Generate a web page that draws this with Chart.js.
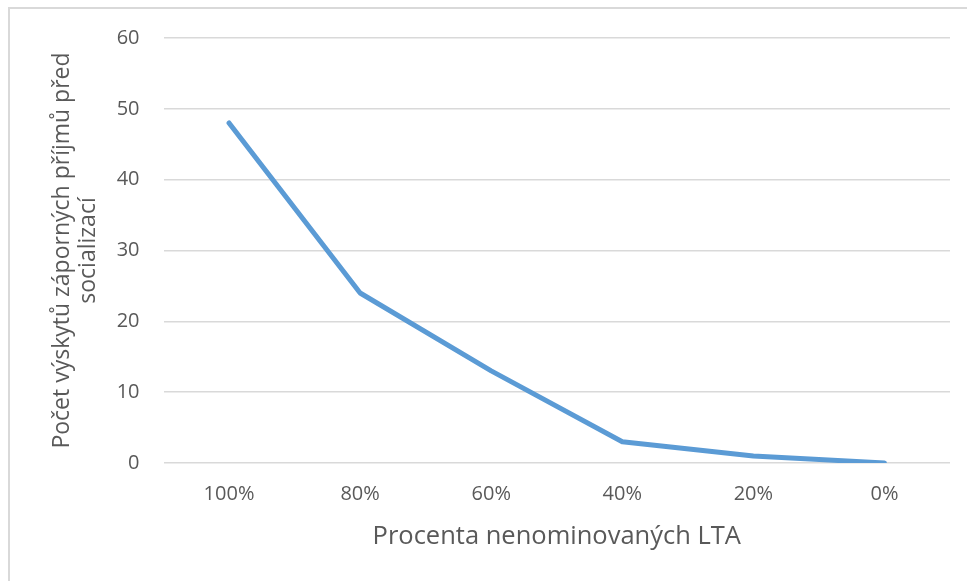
<!DOCTYPE html>
<html>
<head>
<meta charset="utf-8">
<script src="https://cdn.jsdelivr.net/npm/chart.js@4"></script>
<style>
  html, body { margin: 0; padding: 0; background: #ffffff; }
  #wrap { width: 967px; height: 581px; position: relative; }
</style>
</head>
<body>
<div id="wrap"><canvas id="c" width="967" height="581"></canvas></div>
<script>
const categories = ['100%', '80%', '60%', '40%', '20%', '0%'];
const counts = [48, 24, 13, 3, 1, 0];
const yTicks = [0, 10, 20, 30, 40, 50, 60];
const xTitle = 'Procenta nenominovaných LTA';
const yTitle = ['Počet výskytů záporných příjmů před', 'socializací'];

const FONT = '"Open Sans", "DejaVu Sans", sans-serif';
const TEXT = '#595959';
const GRID = '#d9d9d9';

// Light frame along the top and left edges of the chart object
const framePlugin = {
  id: 'frame',
  beforeDraw(chart) {
    const ctx = chart.ctx;
    ctx.save();
    ctx.strokeStyle = GRID;
    ctx.lineWidth = 2;
    ctx.beginPath();
    ctx.moveTo(9, chart.height + 2);
    ctx.lineTo(9, 8);
    ctx.lineTo(chart.width + 2, 8);
    ctx.stroke();
    ctx.restore();
  }
};

new Chart(document.getElementById('c'), {
  type: 'line',
  data: {
    labels: categories,
    datasets: [{
      data: counts,
      borderColor: '#5B9BD5',
      borderWidth: 5,
      borderCapStyle: 'round',
      borderJoinStyle: 'round',
      pointRadius: 0,
      tension: 0,
      fill: false
    }]
  },
  options: {
    responsive: false,
    animation: false,
    devicePixelRatio: 1,
    layout: { padding: { top: 38, right: 17, left: 10, bottom: 0 } },
    plugins: { legend: { display: false }, tooltip: { enabled: false } },
    scales: {
      x: {
        offset: true,
        grid: { display: false, drawTicks: false },
        border: { display: false },
        ticks: { color: TEXT, font: { family: FONT, size: 20 }, padding: 19 },
        title: { display: true, text: xTitle, color: TEXT, font: { family: FONT, size: 25.5, lineHeight: 1.2 }, padding: { top: 0, bottom: 29 } },
        afterFit(scale) { scale.height = 118; }
      },
      y: {
        min: 0,
        max: 60,
        afterBuildTicks(scale) { scale.ticks = yTicks.map(v => ({ value: v })); },
        grid: { color: GRID, lineWidth: 1.5, drawTicks: false },
        border: { display: false },
        ticks: { color: TEXT, font: { family: FONT, size: 20 }, padding: 24 },
        title: { display: true, text: yTitle, color: TEXT, font: { family: FONT, size: 23, lineHeight: 1.13 }, padding: { top: 39, bottom: 0 } },
        afterFit(scale) { scale.width = 153.5; }
      }
    }
  },
  plugins: [framePlugin]
});
</script>
</body>
</html>
